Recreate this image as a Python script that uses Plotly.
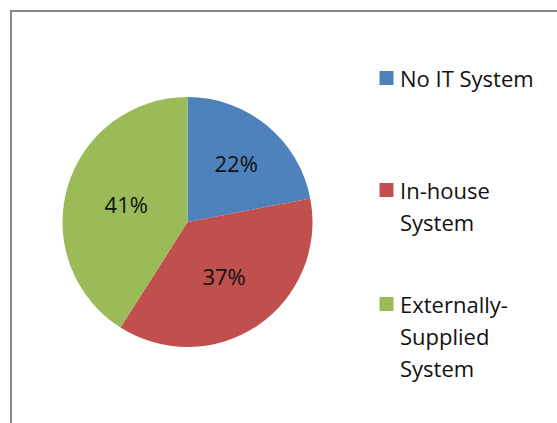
import plotly.graph_objects as go

# Share of respondents by type of IT system
categories = ["No IT System", "In-house System", "Externally-Supplied System"]
shares = [22, 37, 41]
colors = ["#4F81BD", "#C0504D", "#9BBB59"]
# Legend text split the way it wraps beside the pie
legend_lines = [["No IT System"], ["In-house", "System"], ["Externally-", "Supplied", "System"]]

W, H = 557, 423
FONT = "Open Sans"


def px_x(x):
    return x / W


def px_y(y):
    return 1 - y / H


fig = go.Figure(
    go.Pie(
        labels=categories,
        values=shares,
        marker=dict(colors=colors, line=dict(width=0)),
        sort=False,
        direction="clockwise",
        rotation=0,
        textinfo="percent",
        texttemplate="%{percent:.0%}",
        textposition="inside",
        insidetextorientation="horizontal",
        textfont=dict(family=FONT, size=22, color="#111111"),
        showlegend=False,
        hoverinfo="label+percent",
        domain=dict(x=[px_x(62.5), px_x(312.5)], y=[px_y(347), px_y(97)]),
    )
)

shapes = [
    # chart area frame (runs off the right and bottom edges)
    dict(type="rect", xref="paper", yref="paper",
         x0=px_x(11), x1=1.05, y0=-0.05, y1=px_y(11),
         line=dict(color="#898989", width=2), fillcolor="rgba(0,0,0,0)", layer="above"),
]
annotations = []

# legend: coloured square plus wrapped label lines
first_line_y = [78, 190, 304]
line_step = 32
for color, lines, y0 in zip(colors, legend_lines, first_line_y):
    shapes.append(dict(type="rect", xref="paper", yref="paper",
                       x0=px_x(379.5), x1=px_x(393.5), y0=px_y(y0 + 7), y1=px_y(y0 - 7),
                       fillcolor=color, line=dict(width=0)))
    for i, txt in enumerate(lines):
        annotations.append(dict(x=px_x(397.5), y=px_y(y0 + i * line_step), xref="paper", yref="paper",
                                text=txt, showarrow=False, xanchor="left", yanchor="middle",
                                font=dict(family=FONT, size=22, color="#111111")))

fig.update_layout(
    width=W, height=H,
    margin=dict(l=0, r=0, t=0, b=0),
    paper_bgcolor="white",
    plot_bgcolor="white",
    shapes=shapes,
    annotations=annotations,
)

fig.write_html("out.html")
